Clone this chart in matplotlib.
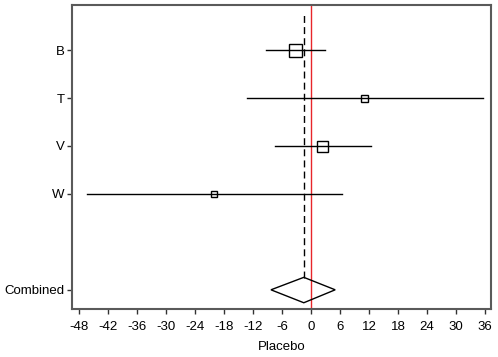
import matplotlib
matplotlib.use("Agg")
import matplotlib.pyplot as plt
from matplotlib.patches import Polygon

plt.rcParams['font.family'] = ['Liberation Sans', 'DejaVu Sans']

studies = ["B", "T", "V", "W"]
estimates = [-3.4, 11.0, 2.3, -20.1]
ci_low = [-9.4, -13.3, -7.5, -46.4]
ci_high = [2.8, 35.7, 12.5, 6.4]
weights = [13, 7, 11, 6]

combined_label = "Combined"
combined_est = -1.5
combined_low = -8.3
combined_high = 5.0

xticks = list(range(-48, 37, 6))
xlabel = "Placebo"

y_pos = [5, 4, 3, 2]
y_comb = 0

fig = plt.figure(figsize=(4.98, 3.57), dpi=100)
ax = fig.add_axes([0.1446, 0.1345, 0.8407, 0.8515])

ax.axvline(0, color='#e8262a', lw=1.0, zorder=1)
ax.vlines(combined_est, 0.25, 5.77, colors='black', linestyles=(0, (5, 3)), lw=1.0, zorder=2)

for y, e, lo, hi, w in zip(y_pos, estimates, ci_low, ci_high, weights):
    ax.plot([lo, hi], [y, y], color='black', lw=1.0, zorder=3)
    ax.plot([e], [y], marker='s', ms=w * 0.72, mfc='none', mec='black', mew=1.0, zorder=4)

diamond = Polygon([[combined_low, y_comb], [combined_est, 0.26], [combined_high, y_comb],
                   [combined_est, -0.27]], closed=True, fill=False, edgecolor='black', lw=1.0, zorder=4)
ax.add_patch(diamond)

ax.set_xlim(-49.5, 37.2)
ax.set_ylim(-0.4, 5.94)
ax.set_xticks(xticks)
ax.set_xticklabels([str(t) for t in xticks])
ax.set_yticks(y_pos + [y_comb])
ax.set_yticklabels(studies + [combined_label])
ax.set_xlabel(xlabel, fontsize=9.5, labelpad=6)

for s in ax.spines.values():
    s.set_color('#5a5a5a')
    s.set_linewidth(1.5)
ax.tick_params(axis='both', labelsize=9.5, length=3.5, width=1.0, color='#333333', pad=2)
ax.tick_params(axis='x', pad=5)

fig.savefig("out.png", dpi=100)
